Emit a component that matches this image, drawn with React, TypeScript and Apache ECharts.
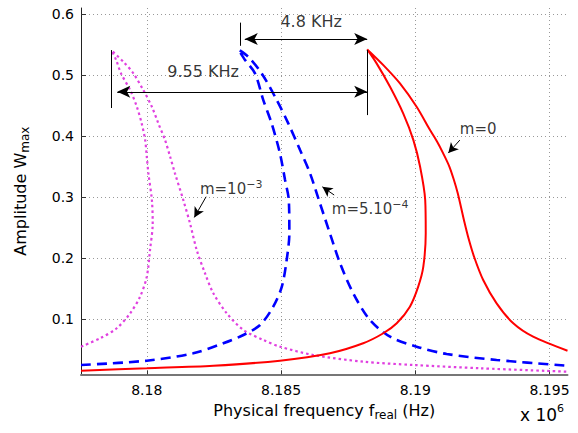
import React, { useEffect, useRef } from 'react';
import * as echarts from 'echarts';

const FONT = 'DejaVu Sans';

// Frequency axis is in units of 10^6 Hz, amplitude is W_max.
const xTicks = [8.18, 8.185, 8.19, 8.195];
const yTicks = [0.1, 0.2, 0.3, 0.4, 0.5, 0.6];
const xRange = [8.17755, 8.19567];
const yRange = [0.0093, 0.61];

// m = 0 (solid red)
const freqM0 = [8.17755, 8.18, 8.18248, 8.18496, 8.18682, 8.18806, 8.18881, 8.18931, 8.1898, 8.19011, 8.1903, 8.19039, 8.19037, 8.19018, 8.18993, 8.18955, 8.18906, 8.18856, 8.18821, 8.18881, 8.18943, 8.19005, 8.19055, 8.19081, 8.19104, 8.19127, 8.19144, 8.19158, 8.1917, 8.19183, 8.19198, 8.19219, 8.19253, 8.19303, 8.19365, 8.19439, 8.19567];
const ampM0 = [0.0152, 0.0192, 0.0234, 0.0316, 0.0438, 0.0602, 0.0766, 0.093, 0.1202, 0.153, 0.1857, 0.2405, 0.2951, 0.3497, 0.3934, 0.4372, 0.4808, 0.5192, 0.5421, 0.5164, 0.4864, 0.448, 0.4098, 0.391, 0.3716, 0.35, 0.3279, 0.3066, 0.2841, 0.259, 0.2328, 0.2021, 0.1639, 0.1257, 0.093, 0.071, 0.048];

// m = 5.10^-4 (dashed blue)
const freqM5 = [8.17755, 8.18, 8.18173, 8.18285, 8.1836, 8.18422, 8.18471, 8.18503, 8.18521, 8.18531, 8.18529, 8.18515, 8.18496, 8.18465, 8.18434, 8.18403, 8.18366, 8.18341, 8.18378, 8.18428, 8.18484, 8.18527, 8.18571, 8.18608, 8.18645, 8.18682, 8.1872, 8.18769, 8.18831, 8.18906, 8.19005, 8.19117, 8.19303, 8.19567];
const ampM5 = [0.0246, 0.0316, 0.0438, 0.0602, 0.0738, 0.0902, 0.1202, 0.153, 0.1967, 0.2405, 0.2951, 0.3279, 0.3716, 0.4208, 0.459, 0.5028, 0.5246, 0.5421, 0.53, 0.5028, 0.459, 0.4208, 0.377, 0.3389, 0.2897, 0.2405, 0.1913, 0.1421, 0.0984, 0.071, 0.0546, 0.0426, 0.0328, 0.0234];

// m = 10^-3 (dotted magenta)
const freqM10 = [8.17755, 8.17826, 8.17888, 8.17938, 8.17975, 8.18, 8.18012, 8.18022, 8.18019, 8.18006, 8.18, 8.17994, 8.17981, 8.17963, 8.17938, 8.17904, 8.17886, 8.1787, 8.17913, 8.1795, 8.17987, 8.18019, 8.18043, 8.18068, 8.18087, 8.18105, 8.18136, 8.18161, 8.18186, 8.18217, 8.18248, 8.18298, 8.1836, 8.18434, 8.18496, 8.1862, 8.18806, 8.18993, 8.19241, 8.19567];
const ampM10 = [0.0546, 0.0684, 0.0848, 0.1093, 0.1366, 0.1693, 0.2131, 0.2569, 0.2951, 0.3389, 0.3661, 0.3934, 0.4208, 0.448, 0.4754, 0.5028, 0.5246, 0.5398, 0.5218, 0.5028, 0.4754, 0.448, 0.4208, 0.3934, 0.3661, 0.3389, 0.2951, 0.2569, 0.2131, 0.1749, 0.1421, 0.1093, 0.082, 0.0656, 0.0546, 0.041, 0.03, 0.0246, 0.0192, 0.0136];

// Peak shifts relative to the m = 0 peak, in MHz
const shiftNarrow = 0.0048;
const shiftWide = 0.00955;

const zip = (xs: number[], ys: number[]) => xs.map((x, i) => [x, ys[i]]);
const peakOf = (xs: number[], ys: number[]) => {
  let k = 0;
  ys.forEach((v, i) => { if (v > ys[k]) k = i; });
  return [xs[k], ys[k]];
};

const redPeak = peakOf(freqM0, ampM0);
const barRight = redPeak[0];
const barNarrow = barRight - shiftNarrow;
const barWide = barRight - shiftWide;
const headOffset = 0.00024;
const yNarrow = 0.559;
const yWide = 0.4726;

const kHz = (v: number) => `${+(v * 1000).toFixed(2)} KHz`;

const black = '#000';
const seg = (a: number[], b: number[], head = false) => [
  { coord: a, symbol: 'none' },
  { coord: b, symbol: head ? 'arrow' : 'none', symbolSize: [8, 10] },
];

const annotationLines = [
  // dimension lines
  [{ coord: [barNarrow + headOffset, yNarrow], symbol: 'arrow' }, { coord: [barRight, yNarrow], symbol: 'arrow' }],
  [{ coord: [barWide + headOffset, yWide], symbol: 'arrow' }, { coord: [barRight, yWide], symbol: 'arrow' }],
  seg([barNarrow + 0.00006, 0.548], [barNarrow + 0.00006, 0.586]),
  seg([barWide, 0.446], [barWide, 0.541]),
  seg([barRight + 0.00002, 0.4344], [barRight + 0.00002, 0.541]),
  // pointers to the curves
  seg([8.19166, 0.3934], [8.19123, 0.3721], true),
  seg([8.18698, 0.3033], [8.18654, 0.3167], true),
  seg([8.18221, 0.3005], [8.18177, 0.2666], true),
];

const notes = [
  { x: 8.18612, y: 0.5885, text: `{k|${kHz(shiftNarrow)}}`, align: 'center' },
  { x: 8.1821, y: 0.5054, text: `{k|${kHz(shiftWide)}}`, align: 'center' },
  { x: 8.19166, y: 0.4115, text: '{n|m=0}', align: 'left' },
  { x: 8.18689, y: 0.2803, text: '{n|m=5.10}{p|−4}', align: 'left' },
  { x: 8.18198, y: 0.3126, text: '{n|m=10}{p|−3}', align: 'left' },
];

const labelRich = {
  n: { fontFamily: FONT, fontSize: 15, color: black },
  k: { fontFamily: FONT, fontSize: 16, color: black },
  p: { fontFamily: FONT, fontSize: 11, color: black, padding: [0, 0, 10, 0] },
};

const option: any = {
  animation: false,
  textStyle: { fontFamily: FONT },
  grid: { left: 81, right: 10.5, top: 8, bottom: 58.7 },
  xAxis: {
    type: 'value',
    min: xRange[0],
    max: xRange[1],
    axisLine: { show: true, onZero: false, lineStyle: { color: '#777', width: 2 } },
    axisTick: { show: true, inside: true, length: 4, customValues: xTicks, lineStyle: { color: '#333' } },
    axisLabel: { customValues: xTicks, color: black, fontSize: 14, fontFamily: FONT, margin: 9, formatter: (v: number) => String(v) },
    splitLine: { show: true, lineStyle: { type: [1, 3], color: '#999', width: 1 } },
    name: '{a|Physical frequency f}{s|real}{a| (Hz)}',
    nameLocation: 'middle',
    nameGap: 24,
    nameTextStyle: {
      rich: {
        a: { fontFamily: FONT, fontSize: 16, color: black },
        s: { fontFamily: FONT, fontSize: 12, color: black, padding: [10, 0, 0, 0] },
      },
    },
  },
  yAxis: {
    type: 'value',
    min: yRange[0],
    max: yRange[1],
    axisLine: { show: true, onZero: false, lineStyle: { color: '#222', width: 1 } },
    axisTick: { show: true, inside: true, length: 5, customValues: yTicks, lineStyle: { color: '#333' } },
    axisLabel: { customValues: yTicks, color: black, fontSize: 14, fontFamily: FONT, margin: 7, formatter: (v: number) => String(v) },
    splitLine: { show: true, lineStyle: { type: [1, 3], color: '#999', width: 1 } },
    name: '{a|Amplitude W}{s|max}',
    nameLocation: 'middle',
    nameRotate: 90,
    nameGap: 50,
    nameTextStyle: {
      rich: {
        a: { fontFamily: FONT, fontSize: 16, color: black },
        s: { fontFamily: FONT, fontSize: 12, color: black, padding: [10, 0, 0, 0] },
      },
    },
  },
  graphic: [
    {
      type: 'text',
      x: 520,
      y: 403,
      style: {
        text: '{a|x 10}{p|6}',
        rich: {
          a: { fontFamily: FONT, fontSize: 17, fill: black },
          p: { fontFamily: FONT, fontSize: 11, fill: black, padding: [0, 0, 12, 0] },
        },
      },
    },
  ],
  series: [
    {
      name: 'm=10^-3',
      type: 'line',
      data: zip(freqM10, ampM10),
      symbol: 'none',
      smooth: 0.3,
      lineStyle: { color: '#e040e0', width: 2.2, type: [2.5, 3] },
      z: 2,
    },
    {
      name: 'm=5.10^-4',
      type: 'line',
      data: zip(freqM5, ampM5),
      symbol: 'none',
      smooth: 0.3,
      lineStyle: { color: '#0000ff', width: 2.6, type: [10, 6] },
      z: 3,
    },
    {
      name: 'm=0',
      type: 'line',
      data: zip(freqM0, ampM0),
      symbol: 'none',
      smooth: 0.3,
      lineStyle: { color: '#ff0000', width: 2 },
      z: 4,
      markLine: {
        silent: true,
        animation: false,
        symbolSize: [9, 13],
        label: { show: false },
        emphasis: { disabled: true },
        lineStyle: { color: black, width: 1, type: 'solid' },
        data: annotationLines,
      },
    },
    {
      name: 'notes',
      type: 'scatter',
      silent: true,
      symbolSize: 1,
      itemStyle: { color: 'rgba(0,0,0,0)' },
      z: 5,
      data: notes.map((n) => ({
        value: [n.x, n.y],
        label: {
          show: true,
          position: 'inside',
          align: n.align,
          verticalAlign: 'middle',
          formatter: n.text,
          rich: labelRich,
        },
      })),
    },
  ],
};

export default function App() {
  const ref = useRef<HTMLDivElement>(null);
  useEffect(() => {
    const chart = echarts.init(ref.current as HTMLDivElement, null, { renderer: 'svg' });
    chart.setOption(option);
    return () => chart.dispose();
  }, []);
  return (
    <div
      ref={ref}
      style={{ position: 'fixed', left: 0, top: 0, width: 578, height: 433, background: '#fff' }}
    />
  );
}
